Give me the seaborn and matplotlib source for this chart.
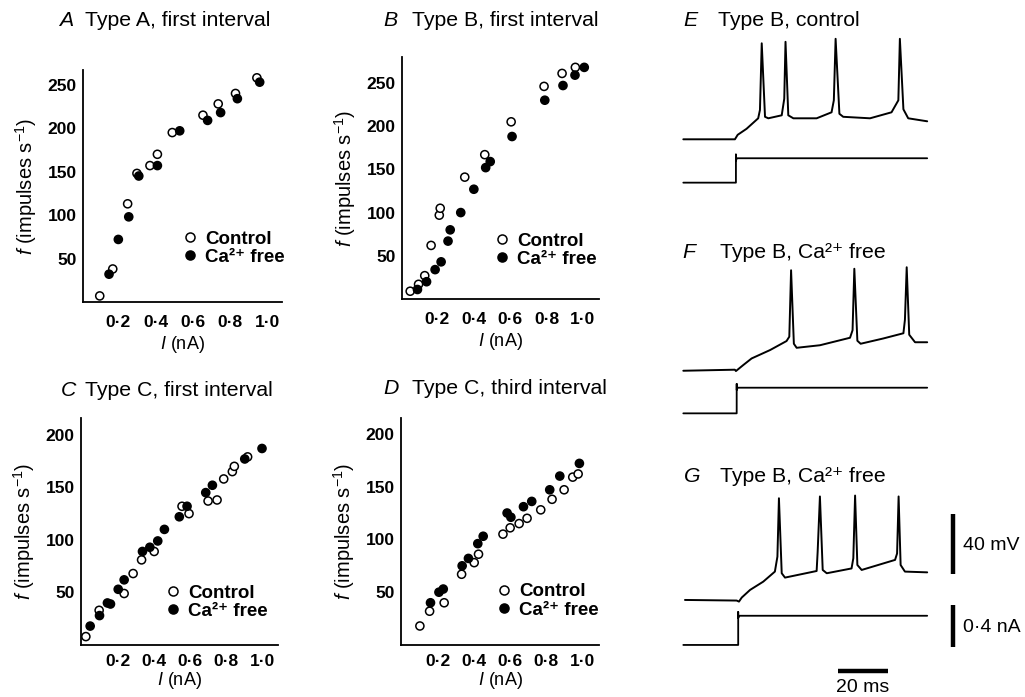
import numpy as np
import pandas as pd
import matplotlib
matplotlib.use('Agg')
import matplotlib.pyplot as plt
import seaborn as sns
from matplotlib.lines import Line2D

# ---------------- data ----------------
# Panel A: Type A, first interval
a_ctrl_I = [0.10, 0.17, 0.25, 0.30, 0.37, 0.41, 0.49, 0.655, 0.737, 0.83, 0.945]
a_ctrl_f = [7, 38, 113, 148, 157, 170, 195, 215, 228, 240, 258]
a_ca_I = [0.15, 0.20, 0.256, 0.31, 0.41, 0.53, 0.68, 0.75, 0.84, 0.96]
a_ca_f = [32, 72, 98, 145, 157, 197, 209, 218, 234, 253]

# Panel B: Type B, first interval
b_ctrl_I = [0.05, 0.096, 0.13, 0.165, 0.21, 0.215, 0.35, 0.46, 0.605, 0.786, 0.885, 0.958]
b_ctrl_f = [9, 17, 27, 62, 97, 105, 141, 167, 205, 246, 261, 268]
b_ca_I = [0.09, 0.14, 0.187, 0.22, 0.258, 0.27, 0.328, 0.40, 0.465, 0.49, 0.61, 0.79, 0.89, 0.956, 1.007]
b_ca_f = [11, 20, 34, 43, 67, 80, 100, 127, 152, 159, 188, 230, 247, 259, 268]

# Panel C: Type C, first interval
c_ctrl_I = [0.02, 0.094, 0.233, 0.283, 0.33, 0.40, 0.555, 0.594, 0.70, 0.75, 0.787, 0.835, 0.846, 0.92]
c_ctrl_f = [8, 33, 49, 68, 81, 89, 132, 125, 137, 138, 158, 165, 170, 179]
c_ca_I = [0.044, 0.096, 0.14, 0.157, 0.20, 0.233, 0.335, 0.376, 0.42, 0.457, 0.54, 0.583, 0.687, 0.724, 0.904, 1.0]
c_ca_f = [18, 28, 40, 39, 53, 62, 89, 93, 99, 110, 122, 132, 145, 152, 177, 187]

# Panel D: Type C, third interval
d_ctrl_I = [0.098, 0.152, 0.233, 0.33, 0.40, 0.424, 0.56, 0.60, 0.65, 0.694, 0.77, 0.833, 0.90, 0.948, 0.978]
d_ctrl_f = [18, 32, 40, 67, 78, 86, 105, 111, 115, 120, 128, 138, 147, 159, 162]
d_ca_I = [0.157, 0.204, 0.228, 0.333, 0.368, 0.42, 0.45, 0.583, 0.604, 0.674, 0.72, 0.82, 0.876, 0.985]
d_ca_f = [40, 50, 53, 75, 82, 96, 103, 125, 121, 131, 136, 147, 160, 172]

x_ticks = [0.2, 0.4, 0.6, 0.8, 1.0]
x_tick_labels = ['0\u00b72', '0\u00b74', '0\u00b76', '0\u00b78', '1\u00b70']
y_ticks_ab = [50, 100, 150, 200, 250]
y_ticks_cd = [50, 100, 150, 200]
legend_labels = ['Control', 'Ca\u00b2\u207a free']

# Panel E trace (time ms, membrane potential mV relative to rest)
e_t = [0, 20.4, 21.5, 25, 29.6, 30.3, 31.0, 32.3, 33.6, 38.9, 39.9, 40.4, 41.5, 43.5, 52.7,
       58.6, 59.5, 60.2, 61.7, 63.2, 73.8, 82.3, 85.0, 85.6, 87.0, 88.9, 96.4]
e_v = [0, 0, 3, 7, 14, 19.6, 64, 15, 14, 16, 27, 65, 16, 14, 14,
       18, 26, 67, 17, 15, 14, 18, 26, 67, 20, 14, 12]
e_step_t, e_end_t, e_step_nA = 20.8, 96.4, 0.234

# Panel F trace
f_t = [0, 20.4, 20.8, 23.7, 27.0, 34.3, 40.8, 41.9, 42.6, 43.7, 44.8, 54.0, 65.9, 66.9,
       67.6, 68.8, 70.1, 79.0, 87.0, 87.6, 88.3, 89.3, 91.6, 96.4]
f_v = [0, 0.7, -0.2, 3.8, 8.2, 13.8, 19.8, 22.7, 67, 18, 15.3, 17, 22, 27,
       68, 20, 18, 21.5, 25, 34, 69, 24, 19, 19]
f_step_t, f_end_t, f_step_nA = 21.1, 96.4, 0.246

# Panel G trace
g_t = [0.66, 21.1, 22.0, 23.1, 26.4, 31.6, 36.2, 37.2, 37.8, 38.9, 40.2, 52.7, 53.1, 54.0,
       55.1, 56.7, 66.5, 67.2, 67.9, 68.8, 70.5, 83.7, 84.5, 85.1, 85.9, 87.6, 96.4]
g_v = [0, -0.4, -1.1, 1.6, 6.7, 12.2, 18.9, 28.9, 67.8, 17.8, 14.9, 19.3, 32, 69,
       20, 17.8, 21, 27.8, 69.6, 23.3, 20, 26.7, 31, 69, 23.3, 18.9, 18.4]
g_step_t, g_end_t, g_step_nA = 21.7, 96.4, 0.28

# ---------------- styling ----------------
sns.set_theme(style='white')
plt.rcParams['font.family'] = ['Liberation Sans', 'DejaVu Sans']
plt.rcParams.update({
    'mathtext.fontset': 'custom',
    'mathtext.rm': 'Liberation Sans',
    'mathtext.it': 'Liberation Sans:italic',
    'mathtext.bf': 'Liberation Sans:bold',
    'mathtext.default': 'regular',
    'text.color': 'black',
    'axes.labelcolor': 'black',
    'xtick.color': 'black',
    'ytick.color': 'black',
    'axes.edgecolor': 'black',
})

W, H = 1025, 697
fig = plt.figure(figsize=(W / 100, H / 100), dpi=100)


def px_axes(left, top, right, bottom):
    return fig.add_axes([left / W, 1 - bottom / H, (right - left) / W, (bottom - top) / H])


def fig_text(x, y, s, **kw):
    fig.text(x / W, 1 - y / H, s, **kw)


def scatter_panel(ax, ctrl_I, ctrl_f, ca_I, ca_f, xlim, ylim, yticks, leg_xy,
                  xpad, xlabelpad):
    df = pd.concat([
        pd.DataFrame({'I': ctrl_I, 'f': ctrl_f, 'cond': 'Control'}),
        pd.DataFrame({'I': ca_I, 'f': ca_f, 'cond': 'Ca free'}),
    ], ignore_index=True)
    sns.scatterplot(data=df, x='I', y='f', hue='cond',
                    palette={'Control': 'white', 'Ca free': 'black'},
                    edgecolor='black', linewidth=1.1, s=34, ax=ax, legend=False,
                    zorder=3, clip_on=False)
    ax.set_xlim(*xlim)
    ax.set_ylim(*ylim)
    ax.set_xticks(x_ticks, x_tick_labels)
    ax.set_yticks(yticks, [str(v) for v in yticks])
    for sp in ['top', 'right']:
        ax.spines[sp].set_visible(False)
    for sp in ['left', 'bottom']:
        ax.spines[sp].set_linewidth(1.3)
    ax.tick_params(axis='both', direction='in', length=3, width=1, labelsize=12.5,
                   colors='black')
    ax.tick_params(axis='x', pad=xpad)
    ax.tick_params(axis='y', pad=4.5)
    for lab in ax.get_xticklabels() + ax.get_yticklabels():
        lab.set_fontweight('bold')
    ax.set_xlabel('$\\mathit{I}$ (nA)', fontsize=13, labelpad=xlabelpad)
    ax.set_ylabel('$\\mathit{f}$ (impulses s$^{-1}$)', fontsize=14.5, labelpad=6.5)
    ax.set_facecolor('none')
    handles = [
        Line2D([], [], ls='none', marker='o', mfc='white', mec='black', mew=1.1, ms=6.5),
        Line2D([], [], ls='none', marker='o', mfc='black', mec='black', mew=1.1, ms=6.5),
    ]
    leg = ax.legend(handles, legend_labels, loc='upper left',
                    bbox_to_anchor=(leg_xy[0] / W, 1 - leg_xy[1] / H),
                    bbox_transform=fig.transFigure, frameon=False, borderpad=0,
                    handlelength=0.7, handletextpad=0.45, labelspacing=0.06,
                    fontsize=13.5)
    for t in leg.get_texts():
        t.set_fontweight('bold')


axA = px_axes(83, 70, 282, 302)
scatter_panel(axA, a_ctrl_I, a_ctrl_f, a_ca_I, a_ca_f, (0.01, 1.08), (0, 267), y_ticks_ab,
              (174, 221), 9, 3)
axB = px_axes(402, 57, 599, 299)
scatter_panel(axB, b_ctrl_I, b_ctrl_f, b_ca_I, b_ca_f, (0.005, 1.088), (0, 280), y_ticks_ab,
              (486, 223), 9, 3)
axC = px_axes(81, 418, 278, 645)
scatter_panel(axC, c_ctrl_I, c_ctrl_f, c_ca_I, c_ca_f, (-0.007, 1.089), (0, 216), y_ticks_cd,
              (157, 575), 6.5, 1)
axD = px_axes(401, 418, 599, 645)
scatter_panel(axD, d_ctrl_I, d_ctrl_f, d_ca_I, d_ca_f, (-0.007, 1.094), (0, 215), y_ticks_cd,
              (488, 574), 6.5, 1)

# ---------------- titles ----------------
titles = [
    (59, 20, 'A', 85, 'Type A, first interval'),
    (383, 20, 'B', 412, 'Type B, first interval'),
    (61, 390, 'C', 85, 'Type C, first interval'),
    (383, 389, 'D', 412, 'Type C, third interval'),
    (683, 20, 'E', 718, 'Type B, control'),
    (682, 252, 'F', 720, 'Type B, Ca\u00b2\u207a free'),
    (684, 477, 'G', 720, 'Type B, Ca\u00b2\u207a free'),
]
for lx, y, letter, tx, txt in titles:
    fig_text(lx, y, letter, fontsize=15.3, style='italic', va='center', ha='left')
    fig_text(tx, y, txt, fontsize=15.3, va='center', ha='left')

# ---------------- traces ----------------
axT = px_axes(670, 0, 1025, 697)
PX_PER_MS = 2.53
PX_PER_MV = 1.5
axT.set_xlim((670 - 683.3) / PX_PER_MS, (1025 - 683.3) / PX_PER_MS)
axT.set_ylim(0, 697 / PX_PER_MV)
axT.axis('off')
NA_TO_UNITS = 27.8 / 0.4  # 0.4 nA bar is as tall as 27.8 mV


def draw_trace(t, v, v_off, step_t, end_t, step_nA, i_off):
    sns.lineplot(x=np.array(t), y=np.array(v) + v_off, sort=False, estimator=None,
                 color='black', lw=1.4, ax=axT)
    hi = step_nA * NA_TO_UNITS
    ct = [0, step_t, step_t, step_t, step_t + 0.4, end_t]
    cv = [0, 0, hi + 2.5, hi - 1.5, hi, hi]
    sns.lineplot(x=np.array(ct), y=np.array(cv) + i_off, sort=False, estimator=None,
                 color='black', lw=1.3, ax=axT)


draw_trace(e_t, e_v, 371.8, e_step_t, e_end_t, e_step_nA, 342.9)
draw_trace(f_t, f_v, 217.5, f_step_t, f_end_t, f_step_nA, 189.1)
draw_trace(g_t, g_v, 64.7, g_step_t, g_end_t, g_step_nA, 34.7)

# scale bars
axT.plot([106.5, 106.5], [81.8, 81.8 + 40], color='black', lw=3.2, solid_capstyle='butt')
axT.plot([106.5, 106.5], [33.5, 33.5 + 0.4 * NA_TO_UNITS], color='black', lw=3.2, solid_capstyle='butt')
axT.plot([61, 81], [17.3, 17.3], color='black', lw=3.2, solid_capstyle='butt')
fig_text(963, 545, '40 mV', fontsize=14, va='center', ha='left')
fig_text(963, 628, '0\u00b74 nA', fontsize=14, va='center', ha='left')
fig_text(863, 687, '20 ms', fontsize=14, va='center', ha='center')

fig.savefig('out.png', dpi=100, facecolor='white')
